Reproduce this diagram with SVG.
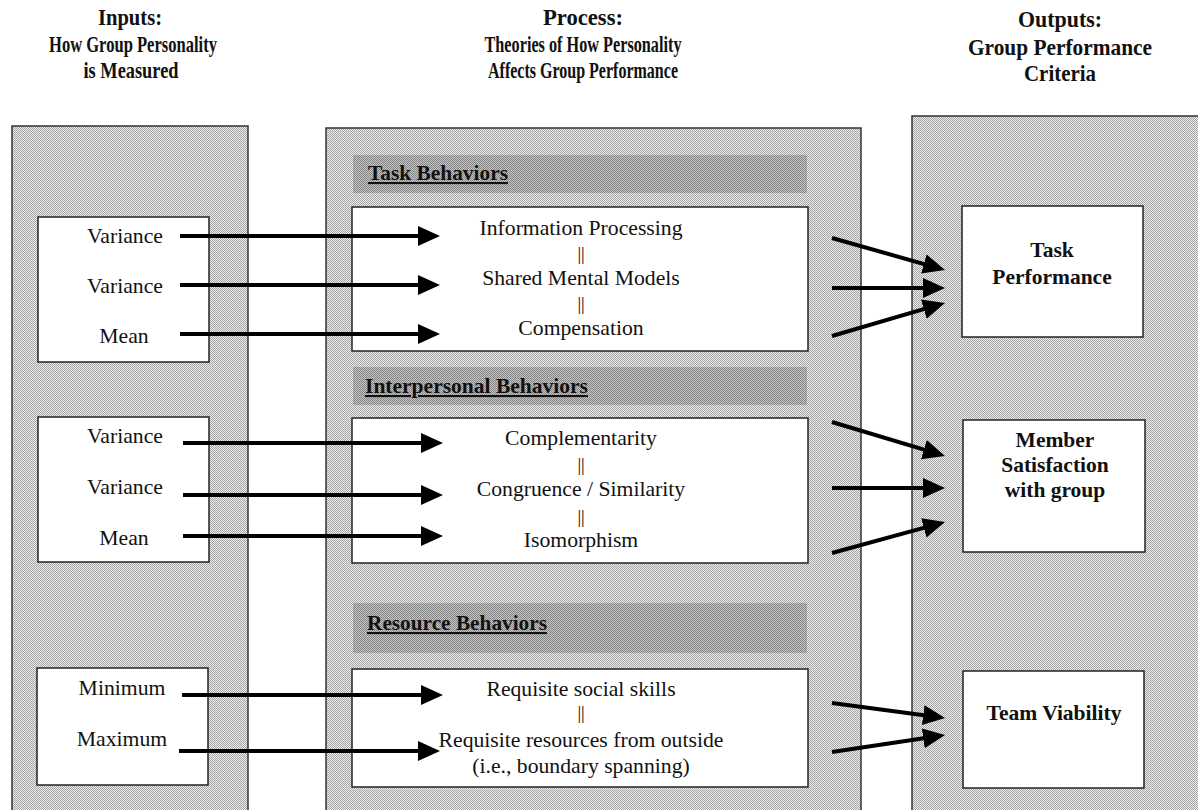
<svg xmlns="http://www.w3.org/2000/svg" width="1198" height="810" viewBox="0 0 1198 810">
  <defs>
    <pattern id="dots" width="2" height="2" patternUnits="userSpaceOnUse">
      <rect width="2" height="2" fill="#ededed"/>
      <rect width="1" height="1" fill="#a4a4a4"/>
      <rect x="1" y="1" width="1" height="1" fill="#a4a4a4"/>
    </pattern>
    <pattern id="dark" width="2" height="2" patternUnits="userSpaceOnUse">
      <rect width="2" height="2" fill="#c4c4c4"/>
      <rect width="1" height="1" fill="#858585"/>
      <rect x="1" y="1" width="1" height="1" fill="#858585"/>
    </pattern>
    <marker id="ah" markerUnits="userSpaceOnUse" markerWidth="24" markerHeight="22" refX="14" refY="10" orient="auto">
      <path d="M0,0 L22,10 L0,20 z" fill="#000"/>
    </marker>
  </defs>
  <style>
    .panel { fill: url(#dots); stroke: #333; stroke-width: 1.5; }
    .band { fill: url(#dark); stroke: none; }
    .box { fill: #fff; stroke: #222; stroke-width: 1.5; }
    .t { font-family: "Liberation Serif", "Times New Roman", serif; font-size: 21.7px; fill: #111; text-anchor: middle; }
    .b { font-family: "Liberation Serif", "Times New Roman", serif; font-size: 21.5px; font-weight: bold; fill: #111; text-anchor: middle; }
    .h { font-family: "Liberation Serif", "Times New Roman", serif; font-size: 22.5px; font-weight: bold; fill: #111; text-anchor: middle; }
    .sec { font-family: "Liberation Serif", "Times New Roman", serif; font-size: 21px; font-weight: bold; fill: #111; text-decoration: underline; }
    .bar { font-family: "Liberation Serif", "Times New Roman", serif; font-size: 18px; fill: #000; text-anchor: middle; }
    .arr { stroke: #000; stroke-width: 4; fill: none; marker-end: url(#ah); }
  </style>

  <rect width="1198" height="810" fill="#fff"/>

  <g id="headers">
    <text class="h" x="130" y="25" textLength="64" lengthAdjust="spacingAndGlyphs">Inputs:</text>
    <text class="h" x="133" y="52" textLength="168" lengthAdjust="spacingAndGlyphs">How Group Personality</text>
    <text class="h" x="131" y="78" textLength="95" lengthAdjust="spacingAndGlyphs">is Measured</text>
    <text class="h" x="583" y="25" textLength="80" lengthAdjust="spacingAndGlyphs">Process:</text>
    <text class="h" x="583" y="52" textLength="197" lengthAdjust="spacingAndGlyphs">Theories of How Personality</text>
    <text class="h" x="583" y="78" textLength="190" lengthAdjust="spacingAndGlyphs">Affects Group Performance</text>
    <text class="h" x="1060" y="27" textLength="84" lengthAdjust="spacingAndGlyphs">Outputs:</text>
    <text class="h" x="1060" y="55" textLength="184" lengthAdjust="spacingAndGlyphs">Group Performance</text>
    <text class="h" x="1060" y="81" textLength="72" lengthAdjust="spacingAndGlyphs">Criteria</text>
  </g>

  <g id="inputs-panel">
    <rect class="panel" x="12" y="126" width="236" height="690"/>
  </g>
  <g id="process-panel">
    <rect class="panel" x="326" y="128" width="535" height="690"/>
  </g>
  <g id="outputs-panel">
    <rect class="panel" x="912" y="116" width="290" height="700"/>
  </g>

  <g id="input-box-1">
    <rect class="box" x="38" y="217" width="171" height="145"/>
    <text class="t" x="125" y="243">Variance</text>
    <text class="t" x="125" y="293">Variance</text>
    <text class="t" x="124" y="343">Mean</text>
  </g>
  <g id="input-box-2">
    <rect class="box" x="38" y="417" width="171" height="145"/>
    <text class="t" x="125" y="443">Variance</text>
    <text class="t" x="125" y="494">Variance</text>
    <text class="t" x="124" y="545">Mean</text>
  </g>
  <g id="input-box-3">
    <rect class="box" x="37" y="668" width="171" height="117"/>
    <text class="t" x="122" y="695">Minimum</text>
    <text class="t" x="122" y="746">Maximum</text>
  </g>

  <g id="task-behaviors">
    <rect class="band" x="353" y="155" width="454" height="38"/>
    <text class="sec" x="368" y="180" textLength="140" lengthAdjust="spacingAndGlyphs">Task Behaviors</text>
    <rect class="box" x="352" y="207" width="456" height="144"/>
    <text class="t" x="581" y="235">Information Processing</text>
    <text class="bar" x="581" y="260">||</text>
    <text class="t" x="581" y="285">Shared Mental Models</text>
    <text class="bar" x="581" y="310">||</text>
    <text class="t" x="581" y="335">Compensation</text>
  </g>

  <g id="interpersonal-behaviors">
    <rect class="band" x="353" y="367" width="454" height="38"/>
    <text class="sec" x="365" y="393" textLength="223" lengthAdjust="spacingAndGlyphs">Interpersonal Behaviors</text>
    <rect class="box" x="352" y="418" width="456" height="145"/>
    <text class="t" x="581" y="445">Complementarity</text>
    <text class="bar" x="581" y="471">||</text>
    <text class="t" x="581" y="496">Congruence / Similarity</text>
    <text class="bar" x="581" y="523">||</text>
    <text class="t" x="581" y="547">Isomorphism</text>
  </g>

  <g id="resource-behaviors">
    <rect class="band" x="353" y="603" width="454" height="50"/>
    <text class="sec" x="367" y="630" textLength="180" lengthAdjust="spacingAndGlyphs">Resource Behaviors</text>
    <rect class="box" x="352" y="669" width="456" height="118"/>
    <text class="t" x="581" y="696">Requisite social skills</text>
    <text class="bar" x="581" y="719">||</text>
    <text class="t" x="581" y="747">Requisite resources from outside</text>
    <text class="t" x="581" y="773">(i.e., boundary spanning)</text>
  </g>

  <g id="task-performance">
    <rect class="box" x="962" y="206" width="181" height="131"/>
    <text class="b" x="1052" y="257">Task</text>
    <text class="b" x="1052" y="284">Performance</text>
  </g>
  <g id="member-satisfaction">
    <rect class="box" x="963" y="420" width="182" height="132"/>
    <text class="b" x="1055" y="447">Member</text>
    <text class="b" x="1055" y="472">Satisfaction</text>
    <text class="b" x="1055" y="497">with group</text>
  </g>
  <g id="team-viability">
    <rect class="box" x="963" y="671" width="181" height="117"/>
    <text class="b" x="1054" y="720">Team Viability</text>
  </g>

  <g id="connectors">
    <line class="arr" x1="180" y1="236" x2="432" y2="236"/>
    <line class="arr" x1="180" y1="285" x2="432" y2="285"/>
    <line class="arr" x1="180" y1="334" x2="432" y2="334"/>
    <line class="arr" x1="183" y1="443" x2="435" y2="443"/>
    <line class="arr" x1="183" y1="495" x2="435" y2="495"/>
    <line class="arr" x1="183" y1="536" x2="435" y2="536"/>
    <line class="arr" x1="182" y1="695" x2="435" y2="695"/>
    <line class="arr" x1="179" y1="751" x2="432" y2="751"/>

    <line class="arr" x1="832" y1="238" x2="937.3" y2="267.8"/>
    <line class="arr" x1="832" y1="288" x2="937" y2="288"/>
    <line class="arr" x1="832" y1="336" x2="937.3" y2="305.2"/>
    <line class="arr" x1="832" y1="422" x2="937.3" y2="453.7"/>
    <line class="arr" x1="832" y1="488" x2="937" y2="488"/>
    <line class="arr" x1="832" y1="553" x2="937.3" y2="524.1"/>
    <line class="arr" x1="832" y1="703" x2="937.1" y2="716.9"/>
    <line class="arr" x1="832" y1="752" x2="937.1" y2="736.2"/>
  </g>
</svg>
